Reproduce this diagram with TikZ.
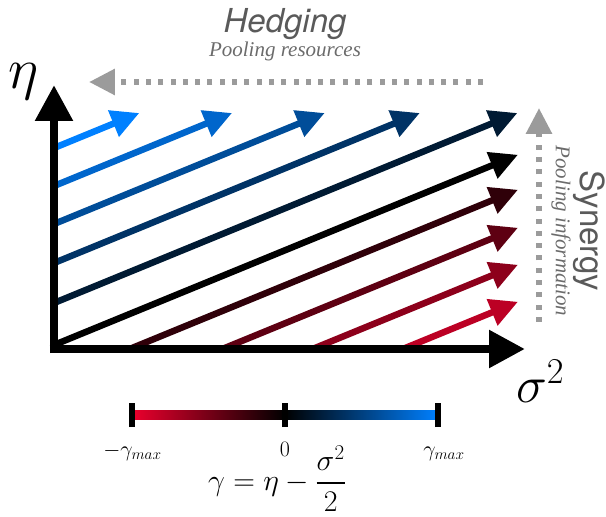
\RequirePackage{fix-cm}
\documentclass[tikz,border=0pt]{standalone}
\usepackage{amsmath,amssymb}
\usepackage{fontspec}
\usepackage{tikz}
\usetikzlibrary{arrows.meta, positioning, calc}
\newfontfamily\tagsans{TeX Gyre Heros}
\newfontfamily\tagserif{Liberation Serif}
\definecolor{gampos}{RGB}{0,128,255}
\definecolor{gamneg}{RGB}{235,0,45}
\definecolor{hintgray}{HTML}{9B9B9B}
\definecolor{tagtext}{HTML}{5A5A5A}
\definecolor{subtext}{HTML}{6B6B6B}
\tikzset{
  axis/.style={line width=8.5pt, -{Triangle[length=36pt, width=36pt]}},
  ray/.style={line width=6.5pt, -{Triangle[length=28pt, width=27pt]}},
  hintarrow/.style={hintgray, line width=6pt, dash pattern=on 5pt off 7.3pt,
    -{Triangle[length=26pt, width=25pt]}},
  tick/.style={line width=6pt},
  headline/.style={text=tagtext, inner sep=0pt, font=\tagsans\fontsize{33}{33}\selectfont},
  subline/.style={text=subtext, inner sep=0pt, font=\tagserif\itshape\fontsize{21}{21}\selectfont},
  barlabel/.style={inner sep=0pt, anchor=base, font=\fontsize{22}{22}\selectfont}
}

\begin{document}
\begin{tikzpicture}[x=1pt, y=1pt]
  \useasboundingbox (-54,-168) rectangle (552,349);
  % Rays of constant gamma
  \foreach \i/\c/\k in {1/201/5, 2/163/4, 3/125/3, 4/86/2, 5/46/1, 6/4/0,
                        7/-31/-1, 8/-69/-2, 9/-106/-3, 10/-143/-4} {
    \pgfmathsetmacro\xs{max(0,0-(\c)/0.41)}
    \pgfmathsetmacro\ys{max(0,\c)}
    \pgfmathsetmacro\xe{min(464,(236-(\c))/0.41)}
    \pgfmathsetmacro\ye{0.41*\xe+(\c)}
    \pgfmathtruncatemacro\pct{20*abs(\k)}
    \ifnum\k<0 \def\tone{gamneg}\else\def\tone{gampos}\fi
    \coordinate (r\i a) at (\xs,\ys);
    \coordinate (r\i b) at (\xe,\ye);
    \draw[ray, color=\tone!\pct!black] (r\i a) -- (r\i b);
  }
  % Axes
  \coordinate (O) at (0,0);
  \coordinate (ybot) at (0,-4.25);
  \coordinate (ytop) at (0,264);
  \coordinate (xleft) at (-4.25,0);
  \coordinate (xend) at (471,0);
  \draw[axis] (ybot) -- (ytop);
  \draw[axis] (xleft) -- (xend);
  \node[inner sep=0pt, font=\fontsize{58}{58}\selectfont] (eta) at (-30,267) {$\eta$};
  \node[inner sep=0pt, font=\fontsize{52}{52}\selectfont] (sig) at (486,-32) {$\sigma^2$};
  % Hedging
  \coordinate (hfrom) at (429,267);
  \coordinate (hto) at (35,267);
  \draw[hintarrow] (hfrom) -- (hto);
  \node[headline, anchor=base, font=\tagsans\itshape\fontsize{33}{33}\selectfont] (hedge) at (231,316) {Hedging};
  \node[subline, anchor=base] (hedgesub) at (231,292) {Pooling resources};
  % Synergy
  \coordinate (sfrom) at (485,27);
  \coordinate (sto) at (485,241);
  \draw[hintarrow] (sfrom) -- (sto);
  \node[headline, rotate=-90] (syn) at (535,118) {Synergy};
  \node[subline, rotate=-90] (synsub) at (507,118) {Pooling information};
  % Colour bar
  \coordinate (cbl) at (78,-66);
  \coordinate (cbm) at (231,-66);
  \coordinate (cbr) at (384,-66);
  \shade[left color=gamneg, right color=gampos, middle color=black]
    ($(cbl)+(0,-4.5)$) rectangle ($(cbr)+(0,4.5)$);
  \foreach \p in {cbl, cbm, cbr}
    \draw[tick] ($(\p)+(0,-12)$) -- ($(\p)+(0,12)$);
  \node[barlabel] (lmin) at (78.5,-107) {$-\gamma_{max}$};
  \node[barlabel] (lzero) at (231,-107) {$0$};
  \node[barlabel] (lmax) at (390,-107) {$\gamma_{max}$};
  \node[inner sep=0pt, anchor=base, font=\fontsize{30}{30}\selectfont] (defn) at (223,-141.5)
    {$\displaystyle \gamma = \eta - \frac{\sigma^2}{2}$};
\end{tikzpicture}
\end{document}
